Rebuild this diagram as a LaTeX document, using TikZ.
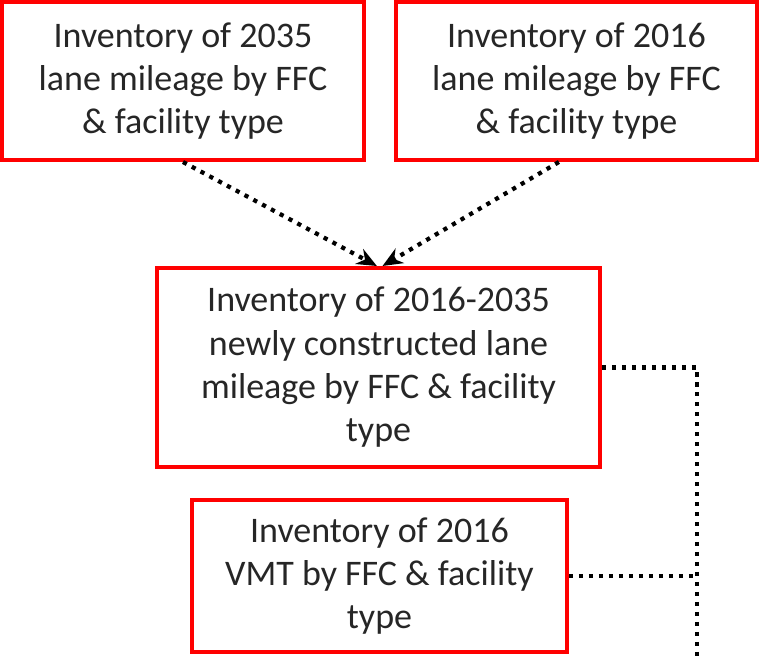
\documentclass[tikz,border=0pt]{standalone}
\usepackage{xcolor}
\usepackage{fontspec}
\setmainfont{Carlito}
\usepackage{tikz}
\usetikzlibrary{arrows.meta, positioning, calc}
\definecolor{boxred}{RGB}{255,0,0}
\definecolor{textgray}{RGB}{38,38,38}

\begin{document}
\begin{tikzpicture}[
    invbox/.style={draw=boxred, line width=2.85pt, align=center, inner sep=0pt,
        font=\fontsize{25.6}{30.8}\selectfont, text=textgray},
    dotline/.style={line width=3pt, dash pattern=on 3pt off 4.1pt, black},
    dotarrow/.style={dotline, -{Stealth[length=0.5cm, width=0.42cm]}}
]

\useasboundingbox (0,0) rectangle (19.05,16.425);

% Top row - lane mileage inventories
\node[invbox, minimum width=9.05cm, minimum height=3.95cm] (inv2035) at (4.575,14.4)
    {Inventory of 2035\\lane mileage by FFC\\\& facility type};
\node[invbox, minimum width=9.025cm, minimum height=3.95cm] (inv2016) at (14.4125,14.4)
    {Inventory of 2016\\lane mileage by FFC\\\& facility type};

% Middle - newly constructed lane mileage
\node[invbox, minimum width=11.075cm, minimum height=4.975cm] (invNew) at (9.4625,7.2375)
    {Inventory of 2016-2035\\newly constructed lane\\mileage by FFC \& facility\\type};

% Bottom - VMT
\node[invbox, minimum width=9.375cm, minimum height=3.8cm] (invVMT) at (9.4875,2.025)
    {Inventory of 2016\\VMT by FFC \& facility\\type};

% Arrows into the middle box
\draw[dotarrow] (inv2035.south) -- ($(invNew.north)+(-0.04,0)$);
\draw[dotarrow] ($(inv2016.south)+(-0.44,0)$) -- ($(invNew.north)+(0.1,0)$);

% Right side bus
\coordinate (busEnd) at (17.425,0);
\draw[dotline] (invNew.east) -- (invNew.east -| busEnd) -- (busEnd);
\draw[dotline] (invVMT.east) -- (invVMT.east -| busEnd);

\end{tikzpicture}
\end{document}
